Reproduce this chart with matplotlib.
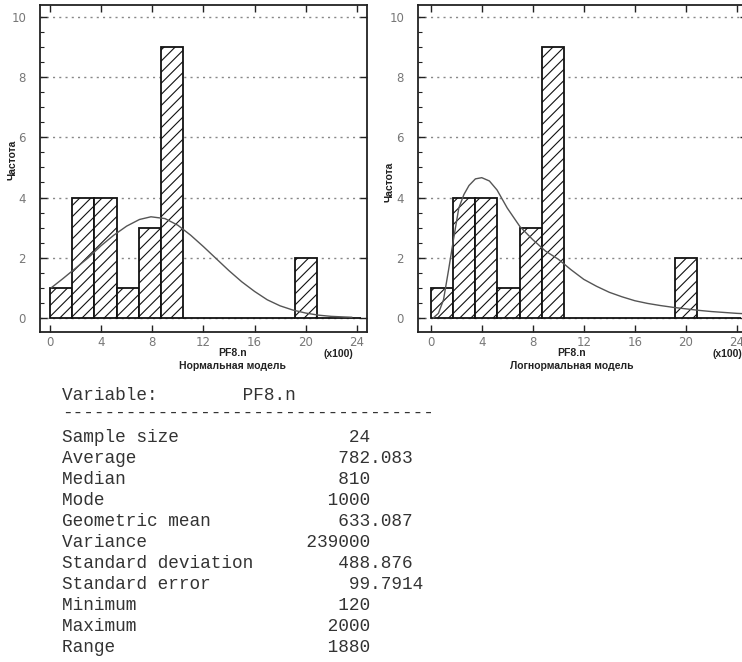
"""Histogram of PF8.n with fitted normal / lognormal curves plus summary table."""

import matplotlib
matplotlib.use("Agg")
import matplotlib.pyplot as plt
import numpy as np

# histogram (values in hundreds)
bin_edges = [0.0, 1.74, 3.48, 5.22, 6.96, 8.70, 10.44, 12.18, 13.92,
             15.66, 17.40, 19.14, 20.88, 22.62, 24.36]
counts = [1, 4, 4, 1, 3, 9, 0, 0, 0, 0, 0, 2, 0, 0]

# fitted normal curve
norm_x = [0.1, 1.0, 2.0, 3.0, 4.0, 5.0, 6.0, 7.0, 7.9, 9.0, 10.0, 11.0, 12.0,
          13.0, 14.0, 15.0, 16.0, 17.0, 18.0, 19.0, 20.0, 21.0, 22.0, 23.0, 23.6]
norm_y = [1.0, 1.3, 1.65, 2.0, 2.4, 2.75, 3.05, 3.27, 3.36, 3.3, 3.08, 2.75, 2.37,
          1.97, 1.57, 1.2, 0.88, 0.6, 0.4, 0.26, 0.16, 0.09, 0.05, 0.03, 0.02]

# fitted lognormal curve
lnorm_x = [0.2, 0.6, 1.0, 1.4, 1.8, 2.2, 2.6, 3.0, 3.5, 4.0, 4.6, 5.2, 6.0, 7.0,
           8.0, 9.0, 10.0, 11.0, 12.0, 13.0, 14.0, 15.0, 16.0, 17.0, 18.0, 19.0,
           20.0, 21.0, 22.0, 23.0, 24.0, 25.0]
lnorm_y = [0.0, 0.15, 0.6, 1.6, 2.65, 3.65, 4.1, 4.4, 4.62, 4.66, 4.55, 4.25, 3.65,
           3.03, 2.6, 2.22, 1.95, 1.6, 1.28, 1.05, 0.85, 0.7, 0.57, 0.48, 0.41,
           0.35, 0.3, 0.25, 0.21, 0.18, 0.15, 0.13]

x_ticks = [0, 4, 8, 12, 16, 20, 24]
y_ticks = [0, 2, 4, 6, 8, 10]

variable_name = "PF8.n"
stat_labels = ["Sample size", "Average", "Median", "Mode", "Geometric mean",
               "Variance", "Standard deviation", "Standard error", "Minimum",
               "Maximum", "Range"]
stat_values = ["24", "782.083", "810", "1000", "633.087", "239000", "488.876",
               "99.7914", "120", "2000", "1880"]

W, H = 742, 662
fig = plt.figure(figsize=(W / 100, H / 100), dpi=100)
fig.patch.set_facecolor("white")
plt.rcParams["hatch.linewidth"] = 0.8

label_font = dict(fontsize=7.5, fontweight="bold", family="Liberation Sans",
                  color="#222222")


def px_axes(left, top, width, height):
    return fig.add_axes([left / W, 1 - (top + height) / H, width / W, height / H])


def draw_panel(ax, xlim, curve_x, curve_y, model_name, name_x, unit_x, ylab_xy):
    lefts = bin_edges[:-1]
    widths = np.diff(bin_edges)
    ax.bar(lefts, counts, width=widths, align="edge", facecolor="white",
           edgecolor="#111111", linewidth=1.3, hatch="///", zorder=2)
    ax.plot(curve_x, curve_y, color="#555555", linewidth=1.0, zorder=3)

    ax.set_xlim(*xlim)
    ax.set_ylim(-0.47, 10.4)
    ax.set_xticks(x_ticks)
    ax.set_yticks(y_ticks)
    ax.set_yticks(np.arange(0, 10.5, 0.5), minor=True)
    ax.grid(axis="y", which="major", linestyle=(0, (1.5, 3)), color="#888888",
            linewidth=1.0, zorder=0)
    ax.tick_params(which="major", direction="in", length=5, width=1.0,
                   top=True, right=True, labelsize=8.5, labelcolor="#777777",
                   color="#222222")
    ax.tick_params(axis="x", pad=3)
    ax.tick_params(axis="y", pad=10)
    ax.tick_params(which="minor", direction="in", length=3, width=0.8,
                   left=True, right=False, color="#222222")
    for spine in ax.spines.values():
        spine.set_linewidth(1.3)
        spine.set_color("#222222")

    ax.set_ylabel("Частота", **label_font)
    ax.yaxis.set_label_coords(*ylab_xy)
    ax.text(name_x, -0.063, variable_name, transform=ax.transAxes, ha="center",
            va="center", **label_font)
    ax.text(name_x, -0.103, model_name, transform=ax.transAxes, ha="center",
            va="center", **label_font)
    ax.text(unit_x, -0.068, "(x100)", transform=ax.transAxes, ha="center",
            va="center", **label_font)


ax1 = px_axes(40, 5, 327, 327)
draw_panel(ax1, (-0.78, 24.8), norm_x, norm_y, "Нормальная модель",
           0.588, 0.913, (-0.068, 0.526))

ax2 = px_axes(418, 5, 329, 327)
draw_panel(ax2, (-1.0, 24.8), lnorm_x, lnorm_y, "Логнормальная модель",
           0.468, 0.94, (-0.07, 0.459))

# summary table in monospace, integer parts aligned in one column
mono = dict(family="Liberation Mono", fontsize=12.8, color="#333333",
            va="center", ha="left")
x0 = 62 / W
int_end = 29


def stat_line(label, value):
    int_part = value.split(".")[0]
    return label.ljust(int_end - len(int_part)) + value


fig.text(x0, 1 - 395 / H, "Variable:".ljust(17) + variable_name, **mono)
fig.text(x0, 1 - 413 / H, "-" * 35, **mono)
for i, (label, value) in enumerate(zip(stat_labels, stat_values)):
    y = 437 + i * 21.1
    fig.text(x0, 1 - y / H, stat_line(label, value), **mono)

fig.savefig("out.png", dpi=100, facecolor="white")
